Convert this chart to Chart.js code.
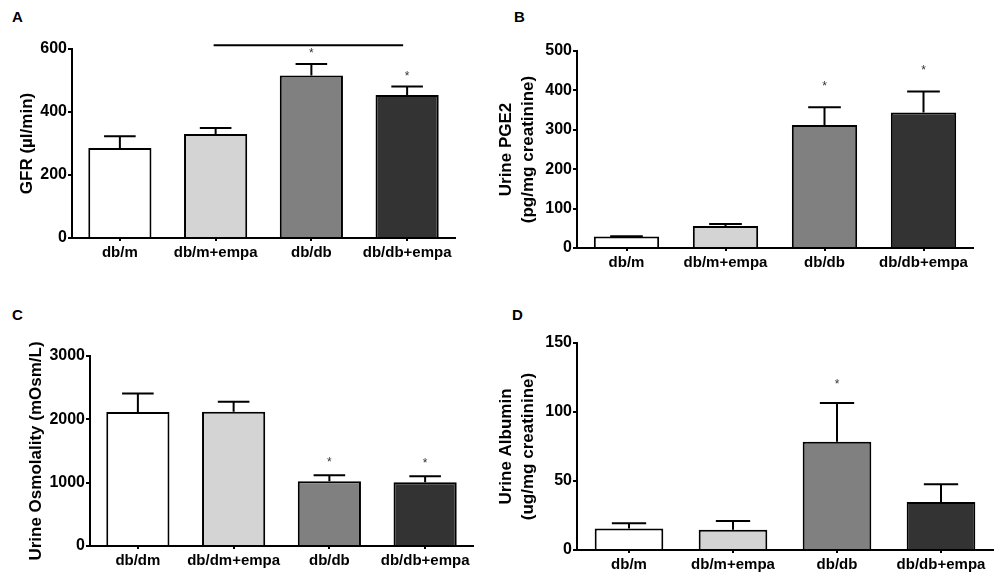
<!DOCTYPE html>
<html>
<head>
<meta charset="utf-8">
<script src="https://cdn.jsdelivr.net/npm/chart.js@4"></script>
<style>
  body { margin: 0; background: #fff; width: 1000px; height: 579px; position: relative; overflow: hidden; font-family: "Liberation Sans", Arial, sans-serif; }
  .panel { position: absolute; }
  .letter { position: absolute; font-weight: bold; font-size: 15px; color: #000; }
</style>
</head>
<body>
<div class="letter" style="left:12px;top:8px">A</div>
<div class="letter" style="left:514px;top:8px">B</div>
<div class="letter" style="left:12px;top:306px">C</div>
<div class="letter" style="left:512px;top:306px">D</div>

<div class="panel" style="left:0px;top:0px;width:490px;height:290px"><canvas id="chartA"></canvas></div>
<div class="panel" style="left:492px;top:0px;width:508px;height:290px"><canvas id="chartB"></canvas></div>
<div class="panel" style="left:0px;top:290px;width:490px;height:289px"><canvas id="chartC"></canvas></div>
<div class="panel" style="left:492px;top:290px;width:508px;height:289px"><canvas id="chartD"></canvas></div>

<script>
// group labels
var groupsM = ['db/m', 'db/m+empa', 'db/db', 'db/db+empa'];
var groupsDM = ['db/dm', 'db/dm+empa', 'db/db', 'db/db+empa'];

// A: GFR
var gfrMean = [286, 330, 516, 454];
var gfrErr = [37, 19, 36, 27];
var gfrStar = [false, false, true, true];

// B: urine PGE2
var pge2Mean = [29, 56, 312, 344];
var pge2Err = [1, 5, 45, 53];
var pge2Star = [false, false, true, true];

// C: urine osmolality
var osmMean = [2117, 2118, 1022, 1006];
var osmErr = [291, 158, 95, 95];
var osmStar = [false, false, true, true];

// D: urine albumin
var albMean = [15.5, 14.7, 78.4, 34.8];
var albErr = [3.9, 6.3, 28.1, 12.9];
var albStar = [false, false, true, false];

var barColors = ['#ffffff', '#d4d4d4', '#808080', '#333333'];
var FONT = "'Liberation Sans', Arial, sans-serif";

// error bars, asterisks and the bracket line, drawn through the chart scales
var extrasPlugin = {
  id: 'extras',
  afterDatasetsDraw: function(chart) {
    var ctx = chart.ctx;
    var ds = chart.data.datasets[0];
    var meta = chart.getDatasetMeta(0);
    var y = chart.scales.y;
    var x = chart.scales.x;
    var ex = chart.options.plugins.extras;
    ctx.save();
    ctx.strokeStyle = '#000';
    ctx.lineWidth = 2;
    meta.data.forEach(function(bar, i) {
      var topY = y.getPixelForValue(ds.data[i] + ds.errors[i]);
      var half = bar.width * 0.25;
      ctx.beginPath();
      ctx.moveTo(bar.x, bar.y);
      ctx.lineTo(bar.x, topY);
      ctx.moveTo(bar.x - half, topY);
      ctx.lineTo(bar.x + half, topY);
      ctx.stroke();
      if (ds.stars[i]) {
        ctx.fillStyle = '#333';
        ctx.font = '12px ' + FONT;
        ctx.textAlign = 'center';
        ctx.textBaseline = 'middle';
        ctx.fillText('*', bar.x, topY - ex.starGap);
      }
    });
    if (ex.bracket) {
      var by = y.getPixelForValue(ex.bracket.value);
      ctx.beginPath();
      ctx.moveTo(x.getPixelForValue(ex.bracket.from) - 2, by);
      ctx.lineTo(x.getPixelForValue(ex.bracket.to) - 4, by);
      ctx.stroke();
    }
    ctx.restore();
  }
};

function makePanel(id, box, area, labels, means, errs, stars, yMax, yStep, yTitle, titleCfg, extras) {
  var tickFont = { family: FONT, size: 15, weight: 'bold' };
  return new Chart(document.getElementById(id), {
    type: 'bar',
    data: {
      labels: labels,
      datasets: [{
        data: means,
        errors: errs,
        stars: stars,
        backgroundColor: barColors,
        borderColor: '#000',
        borderWidth: 2,
        barPercentage: 0.66,
        categoryPercentage: 1
      }]
    },
    options: {
      responsive: true,
      maintainAspectRatio: false,
      animation: false,
      layout: {
        padding: { left: 0, top: area.top - box.top, right: box.left + box.width - area.right, bottom: 0 }
      },
      plugins: {
        legend: { display: false },
        tooltip: { enabled: false },
        extras: extras
      },
      scales: {
        x: {
          afterFit: function(s) { s.height = box.top + box.height - area.bottom; },
          grid: { offset: false, drawOnChartArea: false, color: '#000', lineWidth: 2, tickLength: 3 },
          border: { color: '#000', width: 2 },
          ticks: { color: '#000', font: tickFont, padding: 3, maxRotation: 0, autoSkip: false }
        },
        y: {
          min: 0,
          max: yMax,
          afterFit: function(s) { s.width = area.left - box.left; },
          grid: { drawOnChartArea: false, color: '#000', lineWidth: 2, tickLength: 4 },
          border: { color: '#000', width: 2 },
          ticks: {
            color: '#000',
            font: { family: FONT, size: 16, weight: 'bold' },
            stepSize: yStep,
            padding: 1,
            callback: function(v) { return String(v); }
          },
          title: {
            display: true,
            text: yTitle,
            color: '#000',
            font: { family: FONT, size: 17, weight: 'bold', lineHeight: titleCfg.lineHeight },
            padding: { top: titleCfg.pad, bottom: 0 }
          }
        }
      }
    },
    plugins: [extrasPlugin]
  });
}

makePanel('chartA', { left: 0, top: 0, width: 490, height: 290 }, { left: 72, top: 49, right: 455, bottom: 238 },
  groupsM, gfrMean, gfrErr, gfrStar, 600, 200, 'GFR (µl/min)', { lineHeight: 1.2, pad: 17 },
  { starGap: 10, bracket: { from: 1, to: 3, value: 612 } });

makePanel('chartB', { left: 492, top: 0, width: 508, height: 290 }, { left: 577, top: 51, right: 973, bottom: 248 },
  groupsM, pge2Mean, pge2Err, pge2Star, 500, 100, ['Urine PGE2', '(pg/mg creatinine)'], { lineHeight: 1.25, pad: 4 },
  { starGap: 21 });

makePanel('chartC', { left: 0, top: 290, width: 490, height: 289 }, { left: 90, top: 356, right: 473, bottom: 546 },
  groupsDM, osmMean, osmErr, osmStar, 3000, 1000, 'Urine Osmolality (mOsm/L)', { lineHeight: 1.2, pad: 26 },
  { starGap: 13 });

makePanel('chartD', { left: 492, top: 290, width: 508, height: 289 }, { left: 577, top: 343, right: 993, bottom: 550 },
  groupsM, albMean, albErr, albStar, 150, 50, ['Urine Albumin', '(ug/mg creatinine)'], { lineHeight: 1.25, pad: 4 },
  { starGap: 18 });
</script>
</body>
</html>
